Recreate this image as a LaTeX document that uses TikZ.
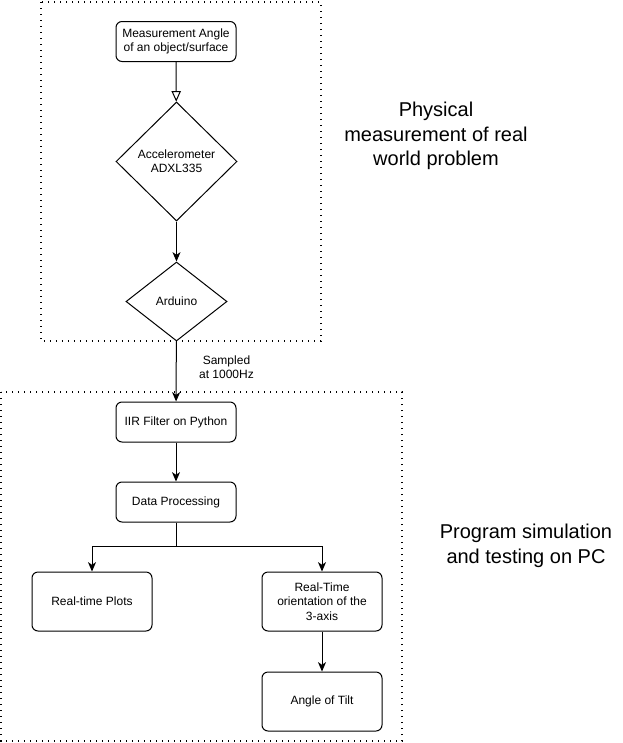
\documentclass[tikz,border=0pt]{standalone}
\usepackage{fontspec}
\setmainfont{Liberation Sans}
\usetikzlibrary{arrows.meta,shapes.geometric}

\begin{document}
\begin{tikzpicture}[x=0.75pt,y=-0.75pt,->,>={Stealth[length=7pt,width=6pt,inset=2pt]},
  line width=0.75pt,
  step box/.style={rectangle,rounded corners=4.5pt,draw,minimum width=90pt,minimum height=30pt,
    align=center,inner sep=2pt,font=\fontsize{9}{10.8}\selectfont},
  decision/.style={diamond,draw,inner sep=0pt,align=center,font=\fontsize{9}{10.8}\selectfont},
  frame/.style={-,line width=1.1pt,dash pattern=on 1.1pt off 3.4pt},
  side label/.style={align=center,font=\fontsize{15}{18.5}\selectfont}]

  \useasboundingbox (0,0) rectangle (622,743);

  \draw[frame] (41,2) rectangle (321,341);
  \draw[frame] (1,392) rectangle (402,741);

  \node[step box] (meas) at (176,41.5) {Measurement Angle\\of an object/surface};
  \node[decision,minimum width=90.75pt,minimum height=89.25pt] (accel) at (176.5,161.5) {Accelerometer\\ADXL335};
  \node[decision,minimum width=75.75pt,minimum height=59.25pt] (ard) at (176.5,301.5) {Arduino};
  \node[step box] (iir) at (176,422) {IIR Filter on Python};
  \node[step box] (proc) at (176,502) {Data Processing};
  \node[step box,minimum height=44.25pt] (plots) at (92,601.5) {Real-time Plots};
  \node[step box,minimum height=44.25pt] (orient) at (322,601.5) {Real-Time\\orientation of the\\3-axis};
  \node[step box,minimum height=44.25pt] (tilt) at (322,701.5) {Angle of Tilt};
  \coordinate (split) at (176,546);

  \node[align=center,font=\fontsize{9}{10.8}\selectfont] (rate) at (226.5,367) {Sampled\\at 1000Hz};
  \node[side label] (phys) at (436,136) {Physical\\measurement of real\\world problem};
  \node[side label] (prog) at (526,546) {Program simulation\\and testing on PC};

  \path
    (meas) edge[-{Triangle[open,length=8pt,width=7pt]}] (accel)
    (accel) edge (ard)
    (ard) edge (iir)
    (iir) edge (proc)
    (orient) edge (tilt);
  \draw[-] (proc) -- (split);
  \draw (split) -| (plots);
  \draw (split) -| (orient);
\end{tikzpicture}
\end{document}
